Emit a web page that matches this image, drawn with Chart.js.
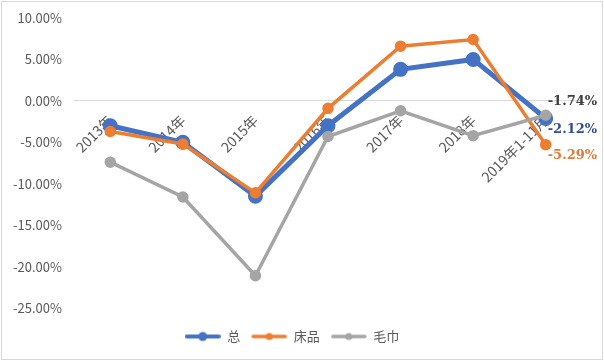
<!DOCTYPE html>
<html>
<head>
<meta charset="utf-8">
<script src="https://cdn.jsdelivr.net/npm/chart.js@4"></script>
<style>
  html, body { margin: 0; padding: 0; background: #fff; }
  #wrap { position: absolute; left: 1px; top: 1px; width: 600px; height: 357px; border: 1px solid #d9d9d9; }
</style>
</head>
<body>
<div id="wrap"><canvas id="myChart"></canvas></div>
<script>
const categories = ['2013年', '2014年', '2015年', '2016年', '2017年', '2018年', '2019年1-11月'];
const totalValues = [-3.0, -5.0, -11.5, -3.0, 3.8, 5.0, -2.12];
const beddingValues = [-3.7, -5.2, -11.1, -0.9, 6.6, 7.4, -5.29];
const towelValues = [-7.4, -11.6, -21.1, -4.3, -1.2, -4.2, -1.74];
const yTicks = [10, 5, 0, -5, -10, -15, -20, -25];

const BLUE = '#4472c4', ORANGE = '#ed7d31', GRAY = '#a5a5a5';
const TEXT = '#595959';

// legend symbol: short line with a dot, like Excel
function legendIcon(color, lw, r) {
  const c = document.createElement('canvas');
  c.width = 36; c.height = 12;
  const g = c.getContext('2d');
  g.strokeStyle = color; g.lineWidth = lw; g.lineCap = 'round';
  g.beginPath(); g.moveTo(2, 6); g.lineTo(34, 6); g.stroke();
  g.fillStyle = color;
  g.beginPath(); g.arc(18, 6, r, 0, Math.PI * 2); g.fill();
  return c;
}

// value label for the last point of each series
const lastLabels = {
  id: 'lastLabels',
  afterDatasetsDraw(chart) {
    const ctx = chart.ctx;
    ctx.save();
    ctx.font = 'bold 13px "DejaVu Serif"';
    ctx.textBaseline = 'middle';
    ctx.textAlign = 'left';
    chart.data.datasets.forEach((ds, i) => {
      const meta = chart.getDatasetMeta(i);
      const pt = meta.data[meta.data.length - 1];
      const v = ds.data[ds.data.length - 1];
      ctx.fillStyle = ds.labelColor;
      ctx.fillText(v.toFixed(2) + '%', pt.x + 2, pt.y + ds.labelDy);
    });
    ctx.restore();
  }
};

const ctx = document.getElementById('myChart').getContext('2d');
new Chart(ctx, {
  type: 'line',
  data: {
    labels: categories,
    datasets: [
      { label: '总', data: totalValues, borderColor: BLUE, backgroundColor: BLUE,
        borderWidth: 5, pointRadius: 5, order: 3, labelColor: '#2f4f8a', labelDy: 11,
        icon: legendIcon(BLUE, 4, 4.5) },
      { label: '床品', data: beddingValues, borderColor: ORANGE, backgroundColor: ORANGE,
        borderWidth: 3.5, pointRadius: 4, order: 2, labelColor: '#e07b39', labelDy: 11,
        icon: legendIcon(ORANGE, 3.5, 3.5) },
      { label: '毛巾', data: towelValues, borderColor: GRAY, backgroundColor: GRAY,
        borderWidth: 3.5, pointRadius: 4, order: 1, labelColor: '#404040', labelDy: -14,
        icon: legendIcon(GRAY, 3.5, 3.5) }
    ]
  },
  options: {
    responsive: true,
    maintainAspectRatio: false,
    animation: false,
    layout: { padding: { top: 16, right: 20, bottom: 6, left: 0 } },
    elements: { line: { tension: 0 }, point: { borderWidth: 0, hoverRadius: 5 } },
    scales: {
      x: {
        position: { y: 0 },
        offset: true,
        grid: { display: false },
        border: { color: '#d9d9d9', width: 1 },
        ticks: { color: TEXT, font: { family: '"Noto Sans CJK SC"', size: 14 },
                 minRotation: 45, maxRotation: 45, padding: 3 }
      },
      // empty bottom axis, only keeps a gap between plot and legend
      gap: {
        type: 'category', axis: 'x', position: 'bottom',
        grid: { display: false }, border: { display: false },
        ticks: { display: false },
        afterFit(scale) { scale.height = 11; }
      },
      y: {
        min: -25, max: 10,
        afterBuildTicks(scale) { scale.ticks = yTicks.map(v => ({ value: v })); },
        afterFit(scale) { scale.width = 72; },
        grid: { display: false },
        border: { display: false },
        ticks: { color: TEXT, font: { family: '"Noto Sans CJK SC"', size: 13 }, padding: 4,
                 callback: v => v.toFixed(2) + '%' }
      }
    },
    plugins: {
      tooltip: { enabled: false },
      legend: {
        position: 'bottom',
        labels: {
          color: TEXT, font: { family: '"Noto Sans CJK SC"', size: 13 },
          usePointStyle: true, pointStyleWidth: 36, padding: 11,
          generateLabels(chart) {
            return chart.data.datasets.map((ds, i) => ({
              text: ds.label, pointStyle: ds.icon, fillStyle: ds.borderColor,
              strokeStyle: ds.borderColor, lineWidth: 0, fontColor: TEXT, datasetIndex: i, hidden: false
            }));
          }
        }
      }
    }
  },
  plugins: [lastLabels]
});
</script>
</body>
</html>
